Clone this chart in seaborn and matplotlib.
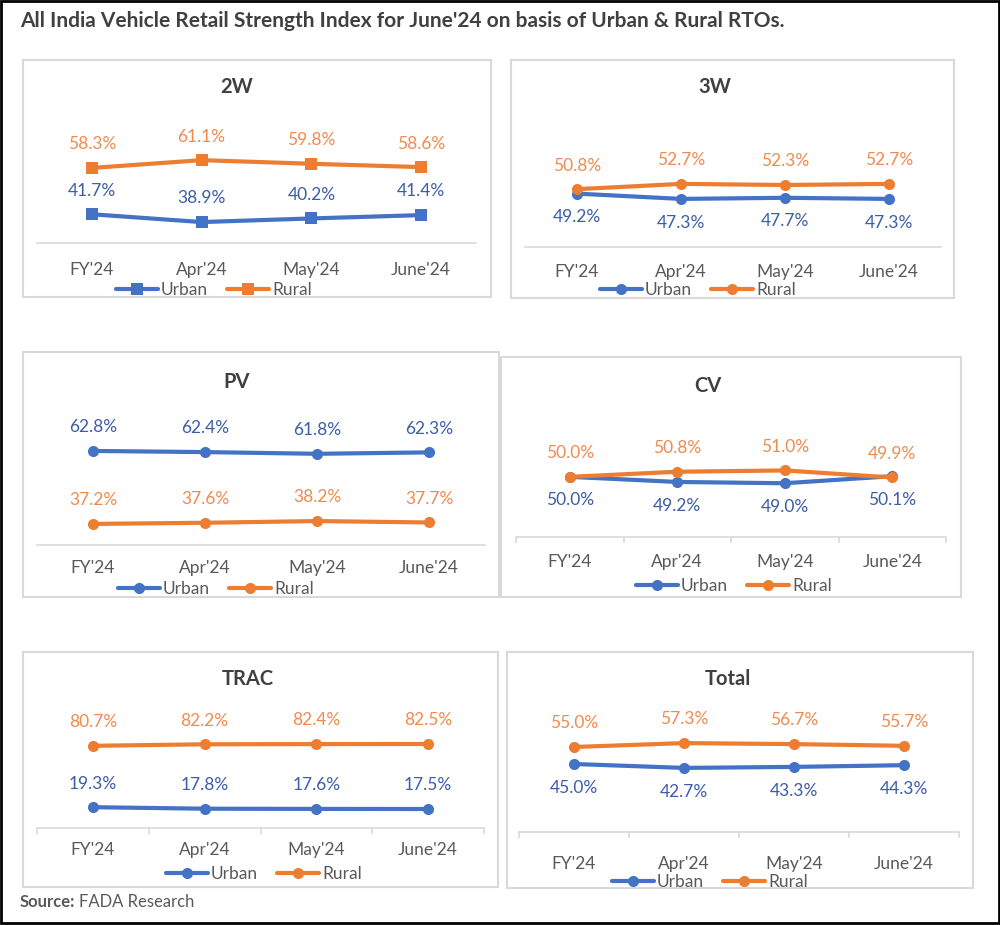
import matplotlib
matplotlib.use("Agg")
import matplotlib.pyplot as plt
import seaborn as sns
from matplotlib.patches import Rectangle
from matplotlib.lines import Line2D

# data (share of retail, %)
periods = ["FY'24", "Apr'24", "May'24", "June'24"]

urban_2w = [41.7, 38.9, 40.2, 41.4]
rural_2w = [58.3, 61.1, 59.8, 58.6]

urban_3w = [49.2, 47.3, 47.7, 47.3]
rural_3w = [50.8, 52.7, 52.3, 52.7]

urban_pv = [62.8, 62.4, 61.8, 62.3]
rural_pv = [37.2, 37.6, 38.2, 37.7]

urban_cv = [50.0, 49.2, 49.0, 50.1]
rural_cv = [50.0, 50.8, 51.0, 49.9]

urban_trac = [19.3, 17.8, 17.6, 17.5]
rural_trac = [80.7, 82.2, 82.4, 82.5]

urban_total = [45.0, 42.7, 43.3, 44.3]
rural_total = [55.0, 57.3, 56.7, 55.7]

BLUE = "#4472C4"
ORANGE = "#ED7D31"
BLUE_TXT = "#3C5DA8"
ORANGE_TXT = "#F08B4F"
GRAY_TXT = "#595959"
BORDER = "#D9D9D9"
FS = 12.5

W, H = 1000, 925

sns.set_theme(style="white")
plt.rcParams["font.family"] = ["Lato", "DejaVu Sans"]

fig = plt.figure(figsize=(W / 100, H / 100), dpi=100)
fig.patch.set_facecolor("white")


def fx(x):
    return x / W


def fy(y):
    return 1 - y / H


# layout of each panel in pixels of the reference
panels = [
    dict(title="2W", urban=urban_2w, rural=rural_2w, marker="s",
         box=(23, 60, 491, 297), axx=(37, 476), axy=(110, 243), ymin=31.4, scale=2.79,
         urban_above=True, ticks=False, title_xy=(237, 87), leg_xy=(214, 290), pad=14),
    dict(title="3W", urban=urban_3w, rural=rural_3w, marker="o",
         box=(511, 60, 954, 298), axx=(525, 941), axy=(110, 247), ymin=30.0, scale=2.78,
         urban_above=False, ticks=False, title_xy=(715, 87), leg_xy=(698, 290), pad=12),
    dict(title="PV", urban=urban_pv, rural=rural_pv, marker="o",
         box=(23, 352, 499, 597), axx=(37, 485), axy=(400, 545), ymin=29.8, scale=2.85,
         urban_above=True, ticks=False, title_xy=(237, 382), leg_xy=(216, 589), pad=11),
    dict(title="CV", urban=urban_cv, rural=rural_cv, marker="o",
         box=(501, 357, 961, 597), axx=(516, 946), axy=(400, 537), ymin=40.6, scale=6.4,
         urban_above=False, ticks=True, title_xy=(708, 386), leg_xy=(734, 586), pad=12),
    dict(title="TRAC", urban=urban_trac, rural=rural_trac, marker="o",
         box=(23, 652, 498, 887), axx=(37, 484), axy=(700, 828), ymin=-1.5, scale=1.0,
         urban_above=True, ticks=True, title_xy=(248, 679), leg_xy=(264, 874), pad=10),
    dict(title="Total", urban=urban_total, rural=rural_total, marker="o",
         box=(507, 652, 973, 888), axx=(519, 959), axy=(700, 832), ymin=5.0, scale=1.7,
         urban_above=False, ticks=True, title_xy=(728, 679), leg_xy=(710, 882), pad=17),
]

ABOVE = 17   # points
BELOW = -17

for p in panels:
    x0, y0, x1, y1 = p["box"]
    fig.patches.append(Rectangle((fx(x0), fy(y1)), fx(x1 - x0), (y1 - y0) / H,
                                 transform=fig.transFigure, fill=False,
                                 edgecolor=BORDER, lw=1.5, zorder=0))

    ax_l, ax_r = p["axx"]
    ax_t, ax_b = p["axy"]
    ax = fig.add_axes([fx(ax_l), fy(ax_b), fx(ax_r - ax_l), (ax_b - ax_t) / H])
    ax.set_facecolor("none")

    sns.lineplot(x=periods, y=p["urban"], ax=ax, color=BLUE, lw=3, sort=False,
                 marker=p["marker"], markersize=8, markeredgewidth=0, label="Urban")
    sns.lineplot(x=periods, y=p["rural"], ax=ax, color=ORANGE, lw=3, sort=False,
                 marker=p["marker"], markersize=8, markeredgewidth=0, label="Rural")

    ax.set_xlim(-0.5, len(periods) - 0.5)
    ax.set_ylim(p["ymin"], p["ymin"] + (ax_b - ax_t) / p["scale"])

    for per, u, r in zip(periods, p["urban"], p["rural"]):
        ax.annotate(f"{r:.1f}%", (per, r), xytext=(0, ABOVE), textcoords="offset points",
                    ha="center", va="center", color=ORANGE_TXT, fontsize=FS)
        ax.annotate(f"{u:.1f}%", (per, u), xytext=(0, ABOVE if p["urban_above"] else BELOW),
                    textcoords="offset points", ha="center", va="center",
                    color=BLUE_TXT, fontsize=FS)

    for side in ["top", "left", "right"]:
        ax.spines[side].set_visible(False)
    ax.spines["bottom"].set_color(BORDER)
    ax.spines["bottom"].set_linewidth(1.2)
    ax.set_yticks([])
    ax.set_xlabel("")
    ax.set_ylabel("")
    ax.tick_params(axis="x", which="major", length=0, pad=p["pad"],
                   labelsize=FS, labelcolor=GRAY_TXT)
    if p["ticks"]:
        ax.set_xticks([i - 0.5 for i in range(len(periods) + 1)], minor=True)
        ax.tick_params(axis="x", which="minor", length=4.5, width=1.2,
                       color=BORDER, bottom=True)

    ax.legend_.remove()
    handles = [Line2D([], [], color=BLUE, lw=3, marker=p["marker"], markersize=8,
                      markeredgewidth=0),
               Line2D([], [], color=ORANGE, lw=3, marker=p["marker"], markersize=8,
                      markeredgewidth=0)]
    fig.legend(handles, ["Urban", "Rural"], loc="center",
               bbox_to_anchor=(fx(p["leg_xy"][0]), fy(p["leg_xy"][1])),
               ncol=2, frameon=False, fontsize=FS, handlelength=2.4,
               handletextpad=0.2, columnspacing=1.1, labelcolor=GRAY_TXT,
               borderpad=0, borderaxespad=0)

    fig.text(fx(p["title_xy"][0]), fy(p["title_xy"][1]), p["title"], ha="center",
             va="center", fontsize=14.5, fontweight="bold", color="#404040")

fig.text(fx(20), fy(21), "All India Vehicle Retail Strength Index for June'24 on basis of Urban & Rural RTOs.",
         ha="left", va="center", fontsize=15, fontweight="bold", color="#404040")

src = fig.text(fx(20), fy(902), "Source:", ha="left", va="center", fontsize=12,
               fontweight="bold", color=GRAY_TXT)
fig.canvas.draw()
bb = src.get_window_extent()
fig.text(bb.x1 / W + fx(4), fy(902), "FADA Research", ha="left", va="center",
         fontsize=12, color=GRAY_TXT)

fig.patches.append(Rectangle((0.0005, fy(923)), 0.998, 922 / H, transform=fig.transFigure,
                             fill=False, edgecolor="black", lw=2, zorder=0))

fig.savefig("out.png", dpi=100, facecolor="white")
